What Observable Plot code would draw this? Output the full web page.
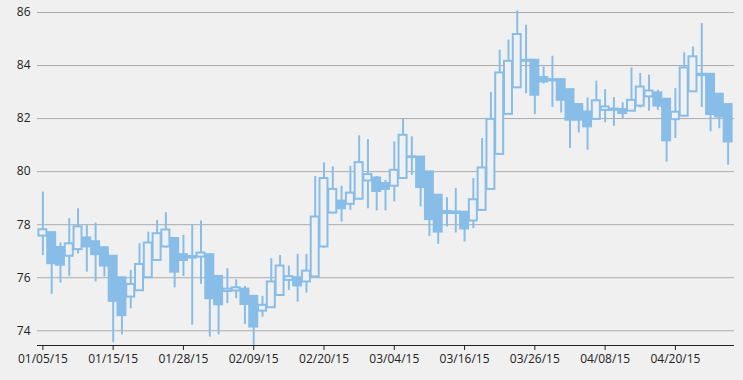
<!DOCTYPE html>
<html>
<head>
<meta charset="utf-8">
<script src="https://cdn.jsdelivr.net/npm/d3@7"></script>
<script src="https://cdn.jsdelivr.net/npm/@observablehq/plot@0.6"></script>
<style>
  html, body { margin: 0; padding: 0; background: #f0f0f0; }
  #chart { width: 743px; height: 380px; }
</style>
</head>
<body>
<div id="chart"></div>
<script>
const dates = ["01/05/15","01/06/15","01/07/15","01/08/15","01/09/15","01/12/15","01/13/15","01/14/15","01/15/15","01/16/15",
  "01/20/15","01/21/15","01/22/15","01/23/15","01/26/15","01/27/15","01/28/15","01/29/15","01/30/15",
  "02/02/15","02/03/15","02/04/15","02/05/15","02/06/15","02/09/15","02/10/15","02/11/15","02/12/15","02/13/15",
  "02/17/15","02/18/15","02/19/15","02/20/15","02/23/15","02/24/15","02/25/15","02/26/15","02/27/15",
  "03/02/15","03/03/15","03/04/15","03/05/15","03/06/15","03/09/15","03/10/15","03/11/15","03/12/15","03/13/15",
  "03/16/15","03/17/15","03/18/15","03/19/15","03/20/15","03/23/15","03/24/15","03/25/15","03/26/15","03/27/15",
  "03/30/15","03/31/15","04/01/15","04/02/15","04/06/15","04/07/15","04/08/15","04/09/15","04/10/15",
  "04/13/15","04/14/15","04/15/15","04/16/15","04/17/15","04/20/15","04/21/15","04/22/15","04/23/15","04/24/15",
  "04/27/15","04/28/15"];
const open = [77.57,77.70,77.14,76.81,77.06,77.50,77.36,77.13,76.81,76.00,
  75.27,75.51,76.00,76.65,77.16,77.48,76.87,76.74,76.78,
  76.87,76.05,75.48,75.50,75.57,75.30,74.74,74.87,75.33,75.90,
  76.00,75.84,76.03,77.16,78.44,78.89,78.77,78.96,79.65,
  79.76,79.55,79.45,79.74,80.56,80.55,79.99,79.11,78.50,78.48,
  78.47,78.14,78.54,79.33,80.65,82.16,83.16,84.20,84.20,83.55,
  83.47,83.47,83.09,82.53,82.25,81.97,82.31,82.36,82.34,
  82.28,82.47,82.82,82.97,82.73,81.96,82.09,83.01,83.67,83.67,
  82.92,82.53];
const high = [79.23,77.72,77.31,78.23,78.60,77.97,78.06,77.16,76.81,76.00,
  76.28,77.28,77.72,78.16,78.45,77.50,77.60,77.97,78.14,
  76.87,76.05,76.34,75.92,75.67,75.30,75.30,76.72,76.84,76.44,
  76.88,76.88,79.82,80.33,80.18,79.45,80.20,81.35,81.21,
  79.82,79.67,81.12,81.97,81.31,80.55,79.99,79.11,79.02,79.36,
  78.47,79.74,81.25,82.98,84.58,84.96,86.06,85.52,84.20,83.95,
  84.35,83.47,83.09,82.53,82.78,83.41,83.09,82.79,82.60,
  83.91,83.70,83.64,83.07,82.73,83.13,84.48,84.70,85.58,83.67,
  82.92,82.53];
const low = [76.84,75.37,75.80,76.05,76.90,76.21,75.84,76.03,73.55,73.85,
  74.83,75.50,76.00,76.62,77.12,75.62,76.05,74.21,75.75,
  73.76,73.85,75.02,75.21,74.24,73.45,74.52,74.85,75.30,75.52,
  75.08,75.42,76.03,77.10,78.40,78.10,78.54,78.96,78.60,
  78.52,78.52,78.86,79.74,79.86,78.67,77.56,77.26,77.91,77.69,
  77.35,77.85,78.54,79.33,80.65,82.16,83.16,82.94,82.15,83.30,
  82.42,82.21,80.87,81.46,80.81,81.97,81.84,81.71,82.00,
  82.28,82.40,82.28,82.31,80.36,81.25,82.09,83.01,82.42,81.50,
  81.62,80.24];
const close = [77.81,76.53,76.47,77.28,77.92,77.16,76.87,76.44,75.11,74.57,
  75.75,76.50,77.31,77.66,77.80,76.21,76.65,76.80,76.93,
  75.21,74.98,75.57,75.62,74.99,74.14,74.96,75.84,76.44,76.04,
  75.69,76.25,78.29,79.74,79.33,78.60,79.19,80.34,79.89,
  79.25,79.33,80.05,81.37,80.53,79.40,78.19,77.72,78.42,78.42,
  77.84,78.94,80.14,81.97,83.72,84.16,85.17,84.16,82.88,83.38,
  83.42,82.69,81.94,81.94,81.69,82.67,82.44,82.31,82.19,
  82.69,83.19,83.04,82.47,81.16,82.24,83.91,84.33,83.62,82.15,
  82.06,81.12];
const yTicks = [74, 76, 78, 80, 82, 84, 86];
const xTickLabels = ["01/05/15","01/15/15","01/28/15","02/09/15","02/20/15","03/04/15","03/16/15","03/26/15","04/08/15","04/20/15"];

const color = "#88bde8";
const bg = "#f0f0f0";
const data = dates.map((d, i) => ({date: d, open: open[i], high: high[i], low: low[i], close: close[i]}));
const up = data.filter(d => d.close >= d.open);
const down = data.filter(d => d.close < d.open);

const chart = Plot.plot({
  width: 743,
  height: 380,
  marginLeft: 38,
  marginRight: 11,
  marginTop: 12,
  marginBottom: 35,
  style: {background: bg, fontFamily: "'Open Sans', sans-serif", fontSize: "12px", color: "#222"},
  x: {type: "band", domain: dates, padding: 0, label: null},
  y: {domain: [73.445, 86], label: null},
  marks: [
    Plot.ruleY(yTicks, {stroke: "#ababab", strokeWidth: 1, insetLeft: -1, insetRight: -2}),
    Plot.ruleX(data, {x: "date", y1: "low", y2: "high", stroke: color, strokeWidth: 2}),
    Plot.barY(down, {x: "date", y1: "open", y2: "close", fill: color, stroke: color, strokeWidth: 2, insetLeft: 0.4, insetRight: 0.4}),
    Plot.barY(up, {x: "date", y1: "open", y2: "close", fill: bg, stroke: color, strokeWidth: 2, insetLeft: 0.4, insetRight: 0.4}),
    Plot.ruleY([73.445], {stroke: "#222", strokeWidth: 1, insetLeft: -1, insetRight: -2}),
    Plot.axisY(yTicks, {tickSize: 0, tickPadding: 8, fill: "#222", fontSize: 12}),
    Plot.axisX(xTickLabels, {tickSize: 5, tickPadding: 4, stroke: "#222", fill: "#222", fontSize: 12})
  ]
});
document.getElementById("chart").appendChild(chart);
</script>
</body>
</html>
